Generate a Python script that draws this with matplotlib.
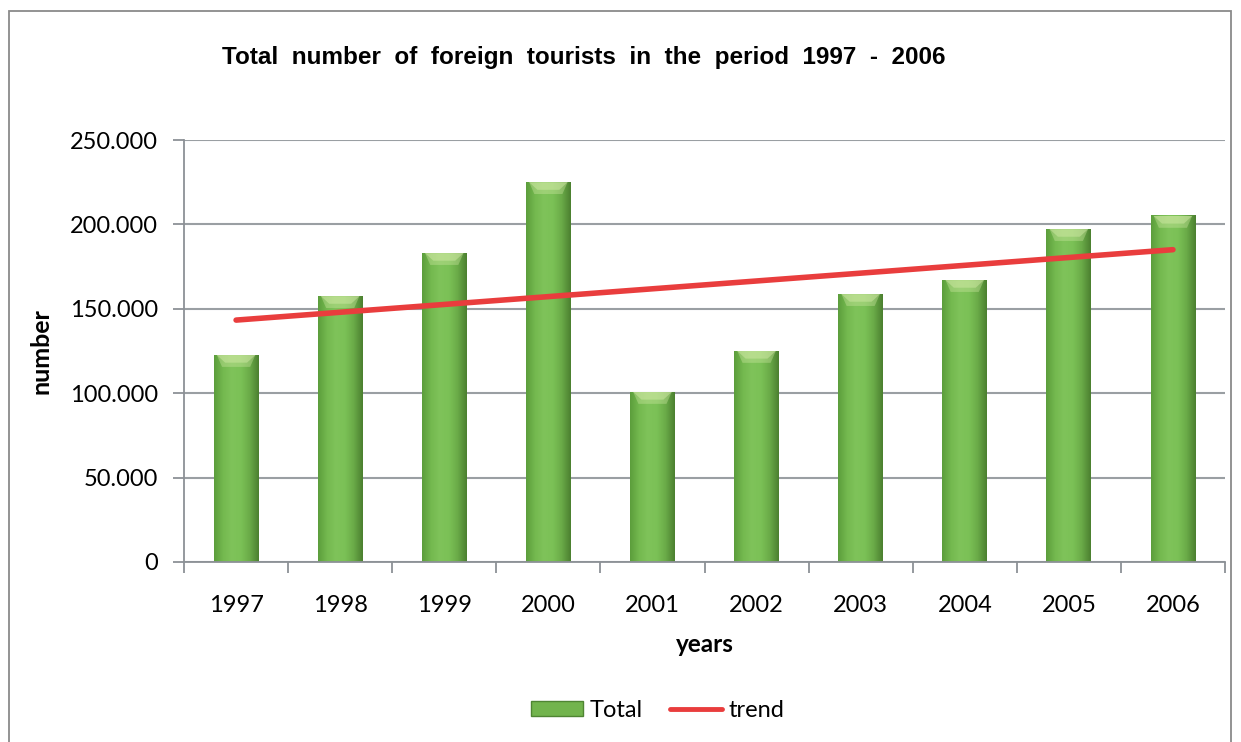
import numpy as np
import matplotlib
matplotlib.use("Agg")
import matplotlib.pyplot as plt
from matplotlib.patches import Rectangle, Polygon, Patch
from matplotlib.lines import Line2D
from matplotlib.colors import LinearSegmentedColormap

plt.rcParams['font.family'] = ['Lato', 'DejaVu Sans']

years = ['1997', '1998', '1999', '2000', '2001', '2002', '2003', '2004', '2005', '2006']
totals = [122600, 157500, 183000, 225000, 100700, 125000, 158700, 167000, 197200, 205000]
y_ticks = [0, 50000, 100000, 150000, 200000, 250000]
y_labels = ['0', '50.000', '100.000', '150.000', '200.000', '250.000']

fig = plt.figure(figsize=(12.41, 7.42), dpi=100)
fig.patches.append(Rectangle((9 / 1241, -0.1), 1222 / 1241, 1.1 - 11 / 742,
                             transform=fig.transFigure, fill=False,
                             edgecolor='#8a8a8a', linewidth=1.3))

ax = fig.add_axes([0.1483, 0.2426, 0.8388, 0.5687])
x = np.arange(len(years))
width = 0.43

# bars with a horizontal shading and a soft light cap on top
shade = LinearSegmentedColormap.from_list(
    'bar', ['#5c9e3c', '#74b94f', '#7fc35a', '#7bc156', '#6aab48', '#4c8030'])
grad = np.linspace(0, 1, 64).reshape(1, -1)
for xi, v in zip(x, totals):
    left = xi - width / 2
    ax.imshow(grad, cmap=shade, aspect='auto', extent=(left, left + width, 0, v),
              zorder=2, interpolation='bilinear')
    for cap, inset, alpha in [(7000, 0.08, 0.35), (4500, 0.11, 0.45)]:
        ax.add_patch(Polygon([(left + 0.03, v), (left + width - 0.03, v),
                              (left + width - inset, v - cap), (left + inset, v - cap)],
                             closed=True, facecolor='#d6ecaa', edgecolor='none',
                             alpha=alpha, zorder=3))

# linear trend of the totals
k, b = np.polyfit(x, totals, 1)
ax.plot(x, k * x + b, color='#e93d3d', linewidth=4, solid_capstyle='round', zorder=4)

ax.set_xlim(-0.5, len(years) - 0.5)
ax.set_ylim(0, 250000)
ax.set_yticks(y_ticks)
ax.set_yticklabels(y_labels, fontsize=17)
ax.set_xticks(x)
ax.set_xticklabels(years, fontsize=17)
ax.set_xticks(np.arange(-0.5, len(years)), minor=True)
ax.tick_params(axis='x', which='major', length=0, pad=24)
ax.tick_params(axis='x', which='minor', length=8, color='#8c9196', width=1.3)
ax.tick_params(axis='y', length=8, color='#8c9196', width=1.3, pad=11)
ax.grid(axis='y', color='#9a9fa3', linewidth=1.5, zorder=0)
ax.set_axisbelow(True)
for s in ['top', 'right']:
    ax.spines[s].set_visible(False)
for s in ['left', 'bottom']:
    ax.spines[s].set_color('#8c9196')
    ax.spines[s].set_linewidth(1.3)

ax.set_ylabel('number', fontsize=18, fontweight='bold', labelpad=12)
ax.set_xlabel('years', fontsize=17.5, fontweight='bold', labelpad=12)

fig.text(0.47, 0.922, 'Total  number  of  foreign  tourists  in  the  period  1997  -  2006',
         ha='center', va='center', fontsize=17.5, fontweight='bold',
         family=['Liberation Sans', 'DejaVu Sans'])

handles = [Patch(facecolor='#72b44d', edgecolor='#4f8533', linewidth=1),
           Line2D([0], [0], color='#e93d3d', linewidth=3.5, solid_capstyle='round')]
fig.legend(handles, ['Total', 'trend'], loc='center', bbox_to_anchor=(0.53, 0.043),
           ncol=2, frameon=False, fontsize=17, handlelength=2.2, handleheight=0.6,
           columnspacing=1.15, handletextpad=0.3)

fig.savefig('out.png', dpi=100)
